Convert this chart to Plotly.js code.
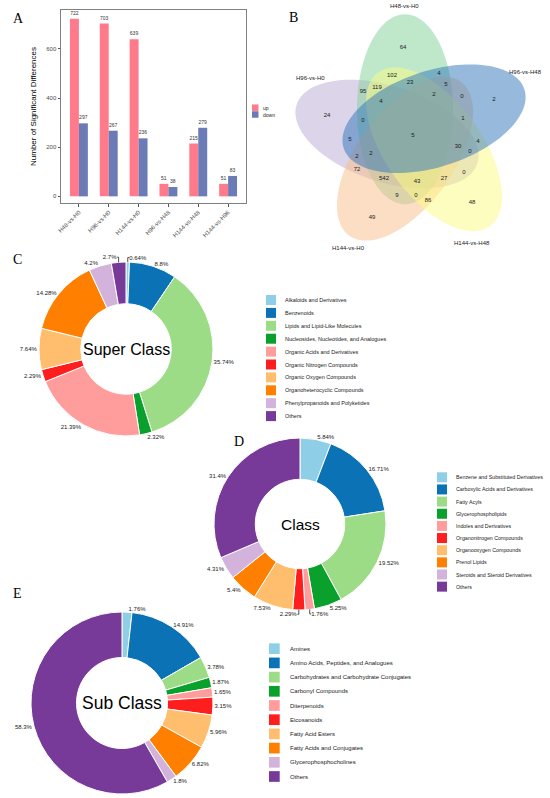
<!DOCTYPE html>
<html>
<head>
<meta charset="utf-8">
<script src="https://cdn.plot.ly/plotly-3.0.1.min.js"></script>
<style>html,body{margin:0;padding:0;background:#fff}</style>
</head>
<body>
<div id="fig" style="width:550px;height:798px"></div>
<script>
// --- data ---
var comparisons = ['H48-vs-H0', 'H96-vs-H0', 'H144-vs-H0', 'H96-vs-H48', 'H144-vs-H48', 'H144-vs-H96'];
var upCounts = [722, 703, 639, 51, 215, 51];
var downCounts = [297, 267, 236, 38, 279, 83];

var vennSets = ['H48-vs-H0', 'H96-vs-H48', 'H144-vs-H48', 'H144-vs-H0', 'H96-vs-H0'];
var vennCounts = [64, 102, 4, 23, 119, 95, 5, 2, 0, 2, 24, 4, 0, 1, 5, 5, 4, 30, 0, 2, 2, 72, 0, 542, 43, 27, 9, 0, 86, 48, 49];

var superClass = ['Alkaloids and Derivatives', 'Benzenoids', 'Lipids and Lipid-Like Molecules',
  'Nucleosides, Nucleotides, and Analogues', 'Organic Acids and Derivatives', 'Organic Nitrogen Compounds',
  'Organic Oxygen Compounds', 'Organoheterocyclic Compounds', 'Phenylpropanoids and Polyketides', 'Others'];
var superPct = [0.64, 8.8, 35.74, 2.32, 21.39, 2.29, 7.64, 14.28, 4.2, 2.7];

var className = ['Benzene and Substituted Derivatives', 'Carboxylic Acids and Derivatives', 'Fatty Acyls',
  'Glycerophospholipids', 'Indoles and Derivatives', 'Organonitrogen Compounds', 'Organooxygen Compounds',
  'Prenol Lipids', 'Steroids and Steroid Derivatives', 'Others'];
var classPct = [5.84, 16.71, 19.52, 5.25, 1.76, 2.29, 7.53, 5.4, 4.31, 31.4];

var subClass = ['Amines', 'Amino Acids, Peptides, and Analogues', 'Carbohydrates and Carbohydrate Conjugates',
  'Carbonyl Compounds', 'Diterpenoids', 'Eicosanoids', 'Fatty Acid Esters', 'Fatty Acids and Conjugates',
  'Glycerophosphocholines', 'Others'];
var subPct = [1.76, 14.91, 3.78, 1.87, 1.65, 3.15, 5.96, 6.82, 1.8, 58.3];

// --- layout helpers (page pixels) ---
var W = 550, H = 798;
var pal = ['#8ECEE6', '#0A72B5', '#9DDC86', '#0AA02C', '#FF9C9C', '#FF1E1E', '#FFBE6E', '#FF8000', '#D3B3DC', '#773A99'];
var txt = '#1a1a1a';

// venn region label positions, same order as vennCounts
var regionPos = [[403,47],[392,75],[439,73],[410,82],[377,87],[363,91],[446,84],[434,94],[462,96],[494,99],
  [327,115],[381,101],[363,120],[463,118],[413,135],[350,139],[478,141],[458,146],[470,151],[357,156],
  [371,153],[357,169],[464,172],[384,178],[417,181],[444,178],[397,195],[416,195],[428,200],[472,202],[372,217]];
var vennColors = ['rgba(127,209,151,0.5)', 'rgba(45,115,185,0.5)', 'rgba(251,251,129,0.5)',
  'rgba(249,189,137,0.5)', 'rgba(185,169,209,0.5)'];
var vennLabelPos = [[404,6],[525,72],[472,243],[348,248],[310,78]];

function pieDomain(cx, cy, r) {
  return {x: [(cx - r) / W, (cx + r) / W], y: [1 - (cy + r) / H, 1 - (cy - r) / H]};
}

var traces = [];
var shapes = [];
var annotations = [];

// bars
traces.push({type: 'bar', name: 'up', x: comparisons, y: upCounts, marker: {color: '#FF7B8B'},
  text: upCounts.map(String), textposition: 'outside', textfont: {size: 5, color: '#333'},
  cliponaxis: false, showlegend: false, hoverinfo: 'y'});
traces.push({type: 'bar', name: 'down', x: comparisons, y: downCounts, marker: {color: '#6A7BB6'},
  text: downCounts.map(String), textposition: 'outside', textfont: {size: 5, color: '#333'},
  cliponaxis: false, showlegend: false, hoverinfo: 'y'});

// venn ellipses (5 congruent ellipses, 72 degrees apart)
var vc = [413, 134], dist = 26, ea = 95, eb = 48;
var phi = [108, 36, -36, -108, 180];
var drawOrder = [4, 0, 3, 2, 1];
drawOrder.forEach(function (i) {
  var p = phi[i] * Math.PI / 180, th = (phi[i] - 18) * Math.PI / 180;
  var cx = vc[0] + dist * Math.cos(p), cy = vc[1] - dist * Math.sin(p);
  var xs = [], ys = [];
  for (var k = 0; k <= 120; k++) {
    var t = k / 120 * 2 * Math.PI;
    var u = ea * Math.cos(t), v = eb * Math.sin(t);
    xs.push(cx + u * Math.cos(th) - v * Math.sin(th));
    ys.push(cy - (u * Math.sin(th) + v * Math.cos(th)));
  }
  traces.push({type: 'scatter', mode: 'none', x: xs, y: ys, xaxis: 'x2', yaxis: 'y2',
    fill: 'toself', fillcolor: vennColors[i], showlegend: false, hoverinfo: 'skip', name: vennSets[i]});
  annotations.push({xref: 'x2', yref: 'y2', x: vennLabelPos[i][0], y: vennLabelPos[i][1], text: vennSets[i],
    showarrow: false, font: {size: 6, color: txt}});
});
traces.push({type: 'scatter', mode: 'text', xaxis: 'x2', yaxis: 'y2',
  x: regionPos.map(function (p) { return p[0]; }), y: regionPos.map(function (p) { return p[1]; }),
  text: vennCounts.map(String), textfont: {size: 6, color: txt}, showlegend: false, hoverinfo: 'text'});

// donuts
function donut(labels, vals, cx, cy, r, hole, title, tsize) {
  traces.push({type: 'pie', labels: labels, values: vals, text: vals.map(function (v) { return v + '%'; }),
    textinfo: 'text', textposition: 'outside', sort: false, direction: 'clockwise', rotation: 0,
    hole: hole, domain: pieDomain(cx, cy, r), showlegend: false,
    marker: {colors: pal, line: {color: '#fff', width: 1}},
    outsidetextfont: {size: 6, color: txt}, hoverinfo: 'label+text'});
  annotations.push({xref: 'x2', yref: 'y2', x: cx, y: cy, text: title, showarrow: false,
    font: {size: tsize, color: '#000'}});
}
donut(superClass, superPct, 126, 349, 87, 0.52, 'Super Class', 16);
donut(className, classPct, 300, 524, 86, 0.52, 'Class', 15.5);
donut(subClass, subPct, 122, 703, 91, 0.5, 'Sub Class', 17.5);

// legends drawn as boxes + labels
function addLegend(names, colors, x0, y0, step, size, fs, gap) {
  names.forEach(function (n, i) {
    var y = y0 + i * step;
    shapes.push({type: 'rect', xref: 'x2', yref: 'y2', x0: x0, x1: x0 + size, y0: y - size / 2, y1: y + size / 2,
      fillcolor: colors[i], line: {width: 0}});
    annotations.push({xref: 'x2', yref: 'y2', x: x0 + size + gap, y: y, text: n, showarrow: false,
      xanchor: 'left', yanchor: 'middle', font: {size: fs, color: txt}});
  });
}
addLegend(['up', 'down'], ['#FF7B8B', '#6A7BB6'], 252, 107.7, 6.8, 6.5, 5, 2);
addLegend(superClass, pal, 266, 300, 12.9, 10, 5.5, 7);
addLegend(className, pal, 437, 477.3, 12.15, 10, 5.3, 6.5);
addLegend(subClass, pal, 269, 648.7, 14.2, 10.7, 6, 8);

// panel letters
[['A', 18, 18], ['B', 293, 17], ['C', 17, 259], ['D', 239, 441], ['E', 17, 593]].forEach(function (l) {
  annotations.push({xref: 'x2', yref: 'y2', x: l[1], y: l[2], text: l[0], showarrow: false,
    font: {family: 'Liberation Serif', size: 14, color: '#000'}});
});

var layout = {
  width: W, height: H,
  margin: {l: 0, r: 0, t: 0, b: 0},
  paper_bgcolor: '#fff', plot_bgcolor: 'rgba(0,0,0,0)',
  font: {family: 'Liberation Sans, Arial, sans-serif', color: txt},
  showlegend: false,
  barmode: 'group', bargap: 0.4, bargroupgap: 0,
  xaxis: {domain: [61 / W, 246 / W], type: 'category', range: [-0.6, 5.6], tickangle: -45,
    tickfont: {size: 6, color: '#4d4d4d'}, ticks: 'outside', ticklen: 2.5, tickcolor: '#555',
    showline: true, mirror: true, linecolor: '#808080', linewidth: 1, showgrid: false, zeroline: false},
  yaxis: {domain: [1 - 203 / H, 1 - 10 / H], range: [-27, 758], tickvals: [0, 200, 400, 600],
    tickfont: {size: 6, color: '#4d4d4d'}, ticks: 'outside', ticklen: 2.5, tickcolor: '#555',
    showline: true, mirror: true, linecolor: '#808080', linewidth: 1, showgrid: false, zeroline: false,
    title: {text: 'Number of Significant Differences', font: {size: 8, color: '#000'}, standoff: 8}},
  xaxis2: {domain: [0, 1], range: [0, W], visible: false, fixedrange: true},
  yaxis2: {domain: [0, 1], range: [H, 0], visible: false, fixedrange: true},
  shapes: shapes,
  annotations: annotations
};

Plotly.newPlot('fig', traces, layout, {staticPlot: true});
</script>
</body>
</html>
